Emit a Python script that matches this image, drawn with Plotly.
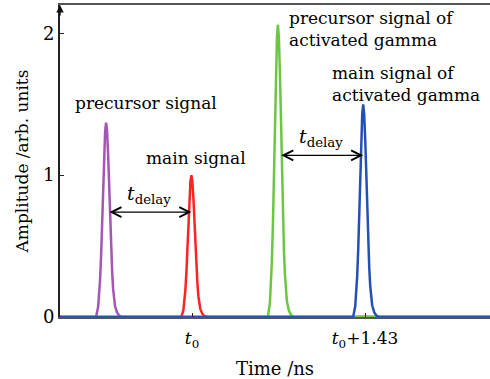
import plotly.graph_objects as go

# Sample times of each pulse, relative to its peak (ns)
pulse_offsets = [-0.083, -0.066, -0.058, -0.050, -0.041, -0.033, -0.025, -0.017, -0.008, 0.0,
                 0.008, 0.017, 0.025, 0.033, 0.041, 0.050, 0.058, 0.066, 0.074, 0.091, 0.107, 0.132]

# Peak times (ns, relative to t0)
peak_precursor = -0.71
peak_main = -0.005
peak_precursor_gamma = 0.71
peak_main_gamma = 1.415

# Amplitudes (arb. units)
amp_precursor = [0, 0.07, 0.14, 0.26, 0.44, 0.66, 0.90, 1.14, 1.31, 1.37, 1.31,
                 1.14, 0.92, 0.69, 0.48, 0.32, 0.20, 0.12, 0.075, 0.03, 0.011, 0]
amp_main = [0, 0.05, 0.105, 0.19, 0.32, 0.48, 0.66, 0.83, 0.955, 1.0, 0.955,
            0.83, 0.67, 0.50, 0.35, 0.23, 0.145, 0.09, 0.055, 0.022, 0.008, 0]
amp_precursor_gamma = [0, 0.10, 0.22, 0.39, 0.66, 0.99, 1.36, 1.71, 1.97, 2.06, 1.97,
                       1.71, 1.38, 1.03, 0.72, 0.47, 0.30, 0.185, 0.113, 0.045, 0.016, 0]
amp_main_gamma = [0, 0.075, 0.16, 0.285, 0.48, 0.72, 0.99, 1.245, 1.43, 1.50, 1.43,
                  1.245, 1.005, 0.75, 0.525, 0.345, 0.22, 0.135, 0.083, 0.033, 0.012, 0]

x_range = [-1.091, 2.463]
y_range = [0, 2.2]
tick_vals = [0, 1.43]
tick_text = ["<i>t</i><sub>0</sub>", "<i>t</i><sub>0</sub>+1.43"]

SERIF = "DejaVu Serif"
INK = "#000"

series = [
    (peak_precursor, amp_precursor, "#a455b5"),
    (peak_main, amp_main, "#ff2222"),
    (peak_precursor_gamma, amp_precursor_gamma, "#6cc644"),
    (peak_main_gamma, amp_main_gamma, "#2450b4"),
]

fig = go.Figure()
for peak, amps, color in series:
    xs = [x_range[0]] + [peak + o for o in pulse_offsets] + [x_range[1]]
    ys = [0] + amps + [0]
    fig.add_trace(go.Scatter(x=xs, y=ys, mode="lines",
                             line=dict(color=color, width=2.5), showlegend=False))

text_font = dict(family=SERIF, size=17, color=INK)

labels = [
    dict(x=-0.38, y=1.507, text="precursor signal", xanchor="center"),
    dict(x=0.033, y=1.12, text="main signal", xanchor="center"),
    dict(x=0.785, y=2.03, text="precursor signal of<br>activated gamma", xanchor="left"),
    dict(x=1.143, y=1.641, text="main signal of<br>activated gamma", xanchor="left"),
]
for lab in labels:
    fig.add_annotation(x=lab["x"], y=lab["y"], text=lab["text"], xanchor=lab["xanchor"],
                       yanchor="middle", align="left", showarrow=False, font=text_font)

# Delay arrows between precursor and main pulses
delays = [
    (peak_precursor, peak_main, 0.74),
    (peak_precursor_gamma, peak_main_gamma, 1.14),
]
for x0, x1, yy in delays:
    fig.add_annotation(x=x1, y=yy, ax=x0 + 0.015, ay=yy, xref="x", yref="y",
                       axref="x", ayref="y", text="", showarrow=True,
                       arrowhead=5, startarrowhead=5, arrowside="end+start",
                       arrowsize=1.5, startarrowsize=1.5, arrowwidth=1.3, arrowcolor=INK)
    fig.add_annotation(x=(x0 + x1) / 2, y=yy, yshift=3, text="<i>t</i><sub>delay</sub>",
                       xanchor="center", yanchor="bottom", showarrow=False,
                       font=dict(family=SERIF, size=19, color=INK))

# Arrowhead on top of the amplitude axis
fig.add_annotation(x=0, y=1, xref="paper", yref="paper", ax=0, ay=12, text="",
                   showarrow=True, arrowhead=2, arrowsize=1, arrowwidth=1.5, arrowcolor="#111")

fig.update_xaxes(range=x_range, showgrid=False, zeroline=False,
                 showline=True, mirror=True, linecolor="#555", linewidth=1.5,
                 ticks="inside", ticklen=4, tickcolor="#222",
                 tickvals=tick_vals, ticktext=tick_text, ticklabelstandoff=5,
                 tickfont=dict(family=SERIF, size=17, color=INK),
                 title=dict(text="Time /ns", font=dict(family=SERIF, size=18, color=INK), standoff=14))
fig.update_yaxes(range=y_range, showgrid=False, zeroline=False,
                 showline=True, linecolor="#222", linewidth=2,
                 ticks="inside", ticklen=4, tickcolor="#222",
                 tickvals=[0, 1, 2], ticktext=["0", "1", "2"],
                 tickfont=dict(family=SERIF, size=18, color=INK),
                 title=dict(text="Amplitude /arb. units", font=dict(family=SERIF, size=17, color=INK), standoff=10))

fig.update_layout(width=490, height=379, margin=dict(l=60, r=0, t=5, b=62),
                  plot_bgcolor="white", paper_bgcolor="white")

fig.write_html("out.html")
